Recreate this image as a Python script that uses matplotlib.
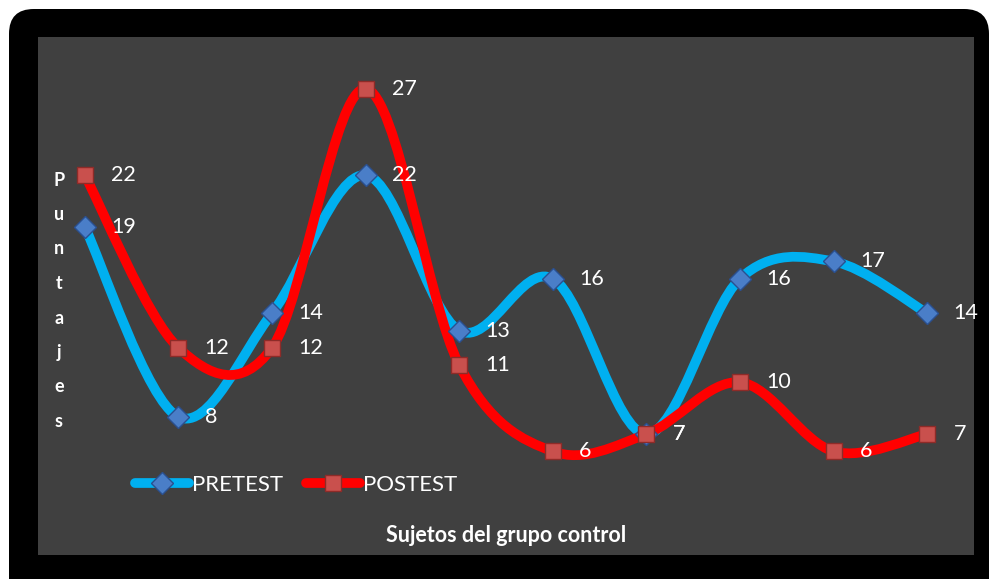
import matplotlib.pyplot as plt
import numpy as np
from matplotlib.path import Path
from matplotlib.patches import PathPatch, FancyBboxPatch
from matplotlib.lines import Line2D

# data
sujetos = list(range(1, 11))
pretest = [19, 8, 14, 22, 13, 16, 7, 16, 17, 14]
postest = [22, 12, 12, 27, 11, 6, 7, 10, 6, 7]

BG = "#404040"
CYAN = "#00B0F0"
RED = "#FF0000"

plt.rcParams["font.family"] = ["Lato", "DejaVu Sans"]


def smooth_path(xs, ys):
    """Catmull-Rom style bezier path, like Excel's smoothed line"""
    pts = np.column_stack([xs, ys]).astype(float)
    ext = np.vstack([pts[0], pts, pts[-1]])
    verts = [pts[0]]
    codes = [Path.MOVETO]
    for i in range(len(pts) - 1):
        p0, p1, p2, p3 = ext[i], ext[i + 1], ext[i + 2], ext[i + 3]
        c1 = p1 + (p2 - p0) / 6
        c2 = p2 - (p3 - p1) / 6
        verts += [c1, c2, p2]
        codes += [Path.CURVE4] * 3
    return Path(verts, codes)


fig = plt.figure(figsize=(9.92, 5.79), dpi=100)
W, H = 992, 579

# outer black rounded frame
frame = FancyBboxPatch((9 / W, -30 / H), 980 / W, (579 - 9 + 30) / H,
                       boxstyle="round,pad=0,rounding_size=0.025",
                       transform=fig.transFigure, facecolor="black",
                       edgecolor="none", mutation_aspect=W / H, zorder=-5)
fig.patches.append(frame)

ax = fig.add_axes([38 / W, (579 - 555) / H, (974 - 38) / W, (555 - 37) / H])
ax.set_zorder(1)
ax.set_facecolor(BG)
ax.set_xlim(-0.5, 9.5)
ax.set_ylim(0, 30)
for s in ax.spines.values():
    s.set_visible(False)
ax.set_xticks([])
ax.set_yticks([])

x = np.arange(len(sujetos))

series = [
    (pretest, CYAN, "D", "#4A7EC8", "#2A5090", 11, "PRETEST"),
    (postest, RED, "s", "#C9504D", "#8E2B28", 12, "POSTEST"),
]
handles = []
for vals, col, mk, fc, ec, ms, name in series:
    ax.add_patch(PathPatch(smooth_path(x, vals), facecolor="none",
                           edgecolor=col, lw=7, capstyle="round",
                           joinstyle="round", zorder=2))
    ax.plot(x, vals, ls="none", marker=mk, ms=ms, mfc=fc, mec=ec, mew=1,
            zorder=3)
    for xi, v in zip(x, vals):
        ax.annotate(str(v), (xi, v), xytext=(19, 0), textcoords="offset points",
                    va="center", ha="left", color="white", fontsize=15.5,
                    zorder=4)
    handles.append(Line2D([], [], color=col, lw=7, solid_capstyle="round",
                          marker=mk, ms=ms, mfc=fc, mec=ec, mew=1, label=name))

leg = ax.legend(handles=handles, loc="center left", bbox_to_anchor=(0.094, 0.135),
                ncol=2, frameon=False, fontsize=16, handlelength=2.45,
                handletextpad=0.1, columnspacing=1.05, borderaxespad=0)
for t in leg.get_texts():
    t.set_color("white")

# vertical letter-by-letter y label
for i, ch in enumerate("Puntajes"):
    yp = 180 + i * 34.5
    fig.text(59 / W, 1 - yp / H, ch, ha="center", va="center",
             color="white", fontsize=13, fontweight="bold", zorder=5)

fig.text(506 / W, 1 - 536 / H, "Sujetos del grupo control", ha="center",
         va="center", color="white", fontsize=15.5, fontweight="bold", zorder=5)

fig.savefig("out.png", dpi=100, facecolor="white")
